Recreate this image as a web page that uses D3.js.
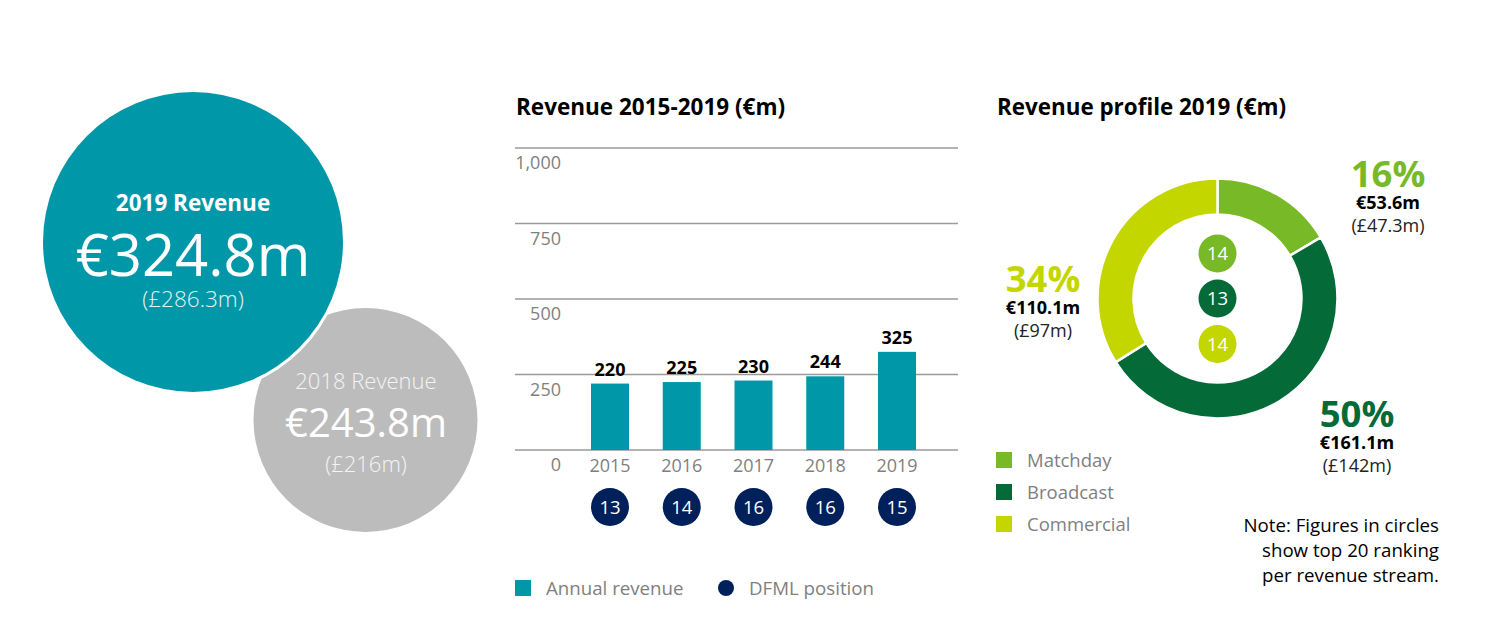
<!DOCTYPE html>
<html><head><meta charset="utf-8">
<script src="https://cdn.jsdelivr.net/npm/d3@7"></script>
<style>body{margin:0;background:#fff}svg{display:block;font-family:"Open Sans",sans-serif}</style>
</head><body><svg id="c" width="1497" height="621"></svg>
<script>
// ---- data ----
const years = ["2015","2016","2017","2018","2019"];
const revenue = [220, 225, 230, 244, 325];
const dfmlPosition = [13, 14, 16, 16, 15];
const yTicks = [0, 250, 500, 750, 1000];
const streams = ["Matchday","Broadcast","Commercial"];
const streamValues = [53.6, 161.1, 110.1];
const streamGBP = ["(£47.3m)","(£142m)","(£97m)"];
const streamPct = ["16%","50%","34%"];
const streamRank = [14, 13, 14];
const headline = [
  {label:"2019 Revenue", eur:"€324.8m", gbp:"(£286.3m)"},
  {label:"2018 Revenue", eur:"€243.8m", gbp:"(£216m)"}
];

const svg = d3.select("#c");
const teal = "#0097a9", grey = "#bcbcbc", navy = "#00205c";
const colors = ["#78b928", "#046a38", "#c4d600"];
const axisGrey = "#7f7f7f";

// ---- headline circles ----
const g0 = svg.append("g");
g0.append("circle").attr("cx",365.5).attr("cy",420).attr("r",112).attr("fill",grey);
g0.append("circle").attr("cx",193).attr("cy",242).attr("r",153).attr("fill","#fff");
g0.append("circle").attr("cx",193).attr("cy",242).attr("r",150).attr("fill",teal);
g0.append("text").attr("x",193).attr("y",211).attr("text-anchor","middle").attr("fill","#fff")
  .attr("font-size",22.5).attr("font-weight",700).text(headline[0].label);
g0.append("text").attr("x",193).attr("y",276).attr("text-anchor","middle").attr("fill","#fff")
  .attr("font-size",58).text(headline[0].eur);
g0.append("text").attr("x",193).attr("y",307).attr("text-anchor","middle").attr("fill","#e6f3f5")
  .attr("font-size",22.5).attr("font-weight",300).text(headline[0].gbp);
g0.append("text").attr("x",366).attr("y",389).attr("text-anchor","middle").attr("fill","#f4f4f4")
  .attr("font-size",22).attr("font-weight",300).text(headline[1].label);
g0.append("text").attr("x",366).attr("y",437).attr("text-anchor","middle").attr("fill","#fff")
  .attr("font-size",40).text(headline[1].eur);
g0.append("text").attr("x",366).attr("y",472).attr("text-anchor","middle").attr("fill","#f4f4f4")
  .attr("font-size",22).attr("font-weight",300).text(headline[1].gbp);

// ---- bar chart ----
const gb = svg.append("g");
gb.append("text").attr("x",516).attr("y",115).attr("font-size",22.5).attr("font-weight",700)
  .attr("fill","#000").text("Revenue 2015-2019 (€m)");
const y = d3.scaleLinear().domain([0,1000]).range([450,148]);
const x = d3.scalePoint().domain(years).range([610,897]);
const bw = 38;
yTicks.forEach(t=>{
  gb.append("line").attr("x1",515).attr("x2",958).attr("y1",y(t)).attr("y2",y(t))
    .attr("stroke","#9a9a9a").attr("stroke-width",1.5);
  gb.append("text").attr("x",561).attr("y",y(t)+21).attr("text-anchor","end")
    .attr("font-size",18).attr("fill",axisGrey).text(d3.format(",")(t));
});
gb.selectAll("rect.bar").data(years).join("rect").attr("class","bar")
  .attr("x",d=>x(d)-bw/2).attr("width",bw)
  .attr("y",(d,i)=>y(revenue[i])).attr("height",(d,i)=>y(0)-y(revenue[i])).attr("fill",teal);
gb.selectAll("text.val").data(years).join("text").attr("class","val")
  .attr("x",d=>x(d)).attr("y",(d,i)=>y(revenue[i])-8).attr("text-anchor","middle")
  .attr("font-size",18).attr("font-weight",700).attr("fill","#000").text((d,i)=>revenue[i]);
gb.selectAll("text.yr").data(years).join("text").attr("class","yr")
  .attr("x",d=>x(d)).attr("y",472).attr("text-anchor","middle")
  .attr("font-size",18).attr("fill",axisGrey).text(d=>d);
gb.selectAll("circle.pos").data(years).join("circle").attr("class","pos")
  .attr("cx",d=>x(d)).attr("cy",507).attr("r",19).attr("fill",navy);
gb.selectAll("text.pos").data(years).join("text").attr("class","pos")
  .attr("x",d=>x(d)).attr("y",513.5).attr("text-anchor","middle")
  .attr("font-size",18.5).attr("fill","#fff").text((d,i)=>dfmlPosition[i]);
// legend
gb.append("rect").attr("x",515).attr("y",580).attr("width",16).attr("height",16).attr("fill",teal);
gb.append("text").attr("x",546).attr("y",594.5).attr("font-size",18.7).attr("fill",axisGrey).text("Annual revenue");
gb.append("circle").attr("cx",726).attr("cy",588).attr("r",8).attr("fill",navy);
gb.append("text").attr("x",749).attr("y",594.5).attr("font-size",18.7).attr("fill",axisGrey).text("DFML position");

// ---- donut ----
const gd = svg.append("g");
gd.append("text").attr("x",997).attr("y",115).attr("font-size",22.4).attr("font-weight",700)
  .attr("fill","#000").text("Revenue profile 2019 (€m)");
const cx = 1217.5, cy = 298.5;
const pie = d3.pie().sort(null).value(d=>d)(streamValues);
const arc = d3.arc().innerRadius(84).outerRadius(120);
gd.append("g").attr("transform",`translate(${cx},${cy})`)
  .selectAll("path").data(pie).join("path").attr("d",arc)
  .attr("fill",(d,i)=>colors[i]).attr("stroke","#fff").attr("stroke-width",2.5);
const rankY = [253.5, 298.5, 344];
streams.forEach((s,i)=>{
  gd.append("circle").attr("cx",cx).attr("cy",rankY[i]).attr("r",19).attr("fill",colors[i]);
  gd.append("text").attr("x",cx).attr("y",rankY[i]+6.5).attr("text-anchor","middle")
    .attr("font-size",18.5).attr("fill","#fff").text(streamRank[i]);
});
const lblPos = [{x:1388,y:187},{x:1357,y:427},{x:1043,y:292}];
streams.forEach((s,i)=>{
  const p = lblPos[i];
  gd.append("text").attr("x",p.x).attr("y",p.y).attr("text-anchor","middle")
    .attr("font-size",36.5).attr("font-weight",700).attr("fill",colors[i]).text(streamPct[i]);
  gd.append("text").attr("x",p.x).attr("y",p.y+21.5).attr("text-anchor","middle")
    .attr("font-size",18).attr("font-weight",700).attr("fill","#000").text("€"+streamValues[i]+"m");
  gd.append("text").attr("x",p.x).attr("y",p.y+45).attr("text-anchor","middle")
    .attr("font-size",18).attr("fill","#222").text(streamGBP[i]);
});
// legend
streams.forEach((s,i)=>{
  gd.append("rect").attr("x",996).attr("y",452+i*32).attr("width",16).attr("height",16).attr("fill",colors[i]);
  gd.append("text").attr("x",1027).attr("y",467+i*32).attr("font-size",18.5).attr("fill",axisGrey).text(s);
});
["Note: Figures in circles","show top 20 ranking","per revenue stream."].forEach((t,i)=>{
  gd.append("text").attr("x",1439).attr("y",531.5+i*25).attr("text-anchor","end")
    .attr("font-size",18.7).attr("fill","#000").text(t);
});
</script></body></html>
